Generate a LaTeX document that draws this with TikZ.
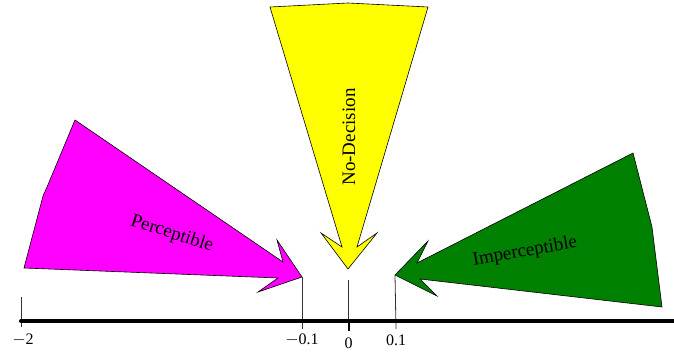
\documentclass[tikz,border=0pt]{standalone}
\usepackage{fontspec}
\setmainfont{Liberation Serif}
\begin{document}
\begin{tikzpicture}[x=1pt,y=-1pt,
  arrowshape/.style={draw=black,line width=0.6pt,line join=miter},
  guide/.style={draw=black!80,line width=0.8pt},
  lbl/.style={font=\fontsize{19}{22}\selectfont,inner sep=0pt},
  axlbl/.style={font=\fontsize{16}{18}\selectfont,inner sep=1pt}]
\useasboundingbox (0,0) rectangle (674,356);
% axis
\coordinate (axL) at (21,321);
\coordinate (axR) at (680,321);
% magenta arrow
\coordinate (tipP) at (302,277);
\filldraw[arrowshape,fill={rgb,255:red,255;green,0;blue,255}]
  (75,120) -- (47,187) -- (43,196) -- (24,268) -- (278,278) -- (258,292)
  -- (tipP) -- (277,240) -- (283,262) -- cycle;
\node[lbl,rotate=-18] (perc) at (172,234) {Perceptible};
% yellow arrow
\coordinate (tipN) at (348,269);
\filldraw[arrowshape,fill={rgb,255:red,255;green,255;blue,0}]
  (270,7) -- (348,3) -- (428,7) -- (357,247) -- (377,233)
  -- (tipN) -- (321,233) -- (342,247) -- cycle;
\node[lbl,rotate=90] (nodec) at (349,137) {No-Decision};
% green arrow
\coordinate (tipI) at (395,275);
\filldraw[arrowshape,fill={rgb,255:red,0;green,128;blue,0}]
  (633,153) -- (652,227) -- (662,307) -- (420,279) -- (437,296)
  -- (tipI) -- (428,241) -- (417,263) -- cycle;
\node[lbl,rotate=10] (imperc) at (525,252) {Imperceptible};
% guide lines
\coordinate (gN) at (348.5,280);
\draw[guide] (tipP) -- (302,329) coordinate (bP);
\draw[guide] (tipI) -- (396,329) coordinate (bI);
\draw[guide] (gN) -- (348.5,321) coordinate (bN);
\draw[guide] (21,297) -- (21,327) coordinate (bL);
\draw[line width=2pt] (348.5,321) -- (348.5,331);
\draw[line width=4pt,line cap=round] (axL) -- (axR);
% labels
\node[axlbl] (lm2) at (23,340) {$-$2};
\node[axlbl] (lm01) at (302,340) {$-$0.1};
\node[axlbl] (l0) at (348.5,343) {0};
\node[axlbl] (l01) at (396,340) {0.1};
\node[axlbl] (l2) at (678,340) {2};
\end{tikzpicture}
\end{document}
